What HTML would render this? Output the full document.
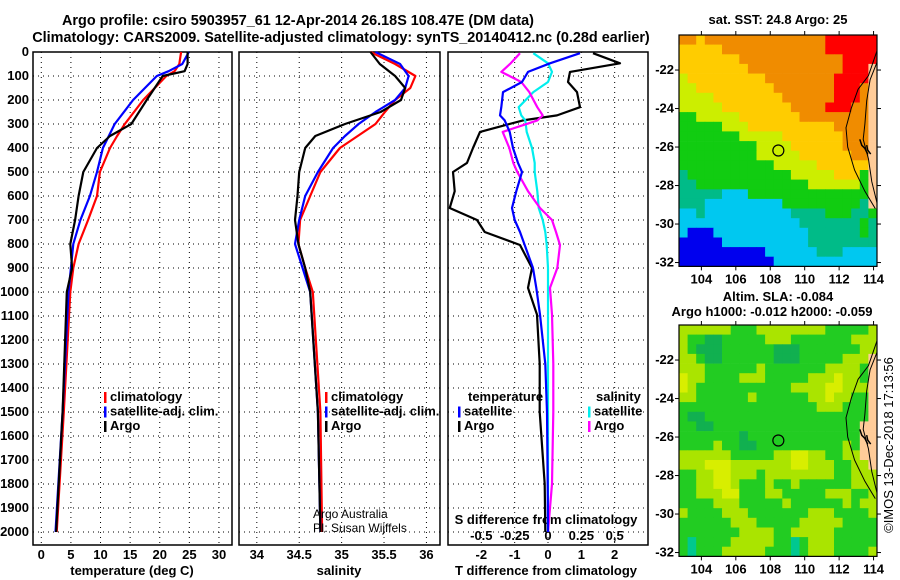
<!DOCTYPE html>
<html><head><meta charset="utf-8">
<style>
html,body{margin:0;padding:0;background:#fff;}
svg{display:block;font-family:"Liberation Sans",Arial,sans-serif;font-weight:bold;}
text{font-size:13px;fill:#000;}
</style></head>
<body>
<svg id="fig" width="900" height="580" viewBox="0 0 900 580" xmlns="http://www.w3.org/2000/svg">
<text x="298" y="25" text-anchor="middle" style="font-size:14.4px">Argo profile: csiro 5903957_61 12-Apr-2014 26.18S 108.47E (DM data)</text>
<text x="341" y="42" text-anchor="middle" style="font-size:14.4px">Climatology: CARS2009. Satellite-adjusted climatology: synTS_20140412.nc (0.28d earlier)</text>
<g id="layer"></g>
</svg>
<script>
// ---------- data ----------
const depthT = [0,50,80,100,200,300,350,400,500,600,700,800,900,1000,1500,2000];
const tempArgo = [24.7,24.7,24.2,20.5,17.8,15.2,11.6,9.4,7.1,6.3,5.7,4.9,5.2,4.3,3.6,2.5];
const tempClim = [23.6,23.3,22.5,21.1,17.2,14.1,12.8,11.6,9.9,9.4,7.9,6.3,5.4,4.9,3.8,2.6];
const tempSat  = [24.9,23.8,21.5,19.5,15.5,12.4,11.4,10.4,9.4,8.2,6.6,5.4,5.0,4.6,3.6,2.4];
const depthS = [0,50,100,150,200,250,300,350,400,500,600,700,800,900,1000,1500,2000];
const salArgo = [35.34,35.45,35.63,35.75,35.70,35.46,35.04,34.69,34.57,34.50,34.48,34.45,34.49,34.57,34.63,34.72,34.75];
const salClim = [35.34,35.63,35.87,35.81,35.63,35.51,35.40,35.19,34.98,34.75,34.63,34.51,34.49,34.57,34.66,34.75,34.77];
const salSat  = [35.40,35.69,35.79,35.75,35.63,35.40,35.20,35.04,34.90,34.72,34.57,34.50,34.45,34.54,34.63,34.72,34.75];
const depthD = [5,47,83,125,167,230,264,285,333,400,462,500,580,650,700,750,804,900,983,1094,1300,1500,1800,2000];
const dTArgo = [1.35,2.16,0.66,0.60,0.87,0.96,0.27,-0.75,-2.04,-2.25,-2.43,-2.85,-2.80,-2.95,-2.13,-1.90,-0.84,-0.48,-0.60,-0.33,-0.25,-0.25,-0.10,-0.08];
const dTSat  = [0.96,0.06,-0.60,-0.78,-1.35,-1.40,-1.44,-1.30,-1.15,-1.05,-0.90,-0.78,-0.95,-1.08,-1.00,-0.84,-0.70,-0.45,-0.35,-0.24,-0.08,-0.03,-0.01,0.00];
const dSArgo = [-0.21,-0.28,-0.35,-0.20,-0.14,-0.08,-0.04,-0.08,-0.34,-0.29,-0.26,-0.23,-0.15,-0.06,0.03,0.06,0.09,0.07,0.015,0.03,0.04,0.04,0.03,0.00];
const dSSat  = [-0.11,0.00,0.03,0.00,-0.11,-0.22,-0.20,-0.17,-0.16,-0.12,-0.10,-0.10,-0.08,-0.07,-0.04,-0.02,-0.01,0.00,0.00,0.00,0.00,0.00,0.00,0.00];
const depthTicks = [0,100,200,300,400,500,600,700,800,900,1000,1100,1200,1300,1400,1500,1600,1700,1800,1900,2000];
const tempTicks = [0,5,10,15,20,25,30];
const salTicks = [34,34.5,35,35.5,36];
const salTickLabels = ["34","34.5","35","35.5","36"];
const dTTicks = [-2,-1,0,1,2];
const dSTicks = [-0.5,-0.25,0,0.25,0.5];
const dSTickLabels = ["-0.5","-0.25","0","0.25","0,5"];
const lonTicks = [104,106,108,110,112,114];
const latTicks = [-22,-24,-26,-28,-30,-32];
const argoLon = 108.47, argoLat = -26.18;
const sstGrid = [
"ooyoooooooooooooorrrrrr","yyyyyoooooooooooorrrrrr","yyyyyyyoooooooooooorrrr","yyyyyyyyooooooooooorrrp",
"lyyyyyyyyyoooooooorrrrp","llyyyyyyyyyooooooorrrop","llllyyyyyyyyoooooorrrop","lllllyyyyyyyyoooorrroop",
"gglllllyyyyyyyoooooooop","ggggglllyyyyyyyyyyoooop","ggggggglllllyyyyyyyooop","gggggggggllllyyyyyyooop",
"ggggggggglllllyyyyyyoop","ggggggggggglllllyyyyyyp","tgggggggggggglllllyyygp","ttgggggggggggggllllllgp",
"tttttcccggggggggggggggp","tttcccccccccgggggggggtp","cctccccccccccttttgggttg","cccccccccccccctttttttgt",
"cbbbcccccccccccttttttgt","bbbbbcccccccccctttttttt","bbbbbbbbbbcccccctttcccc","bbbbbbbbbbbcccccccccccc"];
const slaGrid = [
"llllllgggllllllllgggggl","lggddggggglllggggggglll","lgdddggggggdddgggggggll","llgddggggggdddggggglllp",
"lllgggggglgggggggllllgp","yllgggglllggggglllyllgp","ylgggggggggggllllyylllp","llgggggglggggggllyllggp",
"gggggggggggggggglllgggp","gddgggggggggggggggggggp","ggddgggggggggggggggggpp","gggggggdgggggggggggggpp",
"gggglggddgggggggggglgpp","llllllgggggllyyllggllpp","lllyyylllllllyylllggllp","ggllyylllgllllllllgglll",
"ggllyylggglgglgggggglll","gglllyygggllggggglllggl","gggglllggggglgggggglgll","lgggglllggggggglllggggl",
"gggggglllggggglllllgggg","gggggggllllgglllllggggg","gtgggglllllggtglllggggg","gtggglllllgggtglllggggl"];
const sstColors = {o:"#f08c00",y:"#ffcc00",l:"#ccee00",g:"#11cc11",t:"#00bb88",c:"#00c8f0",b:"#0000ee",r:"#ff0000",p:"#ffcc99"};
const slaColors = {g:"#22cc22",d:"#11b050",l:"#aae400",y:"#d8ee00",t:"#00c890",p:"#ffcc99"};

// ---------- drawing ----------
const NS="http://www.w3.org/2000/svg";
const layer=document.getElementById('layer');
function mk(tag,attrs,parent){const e=document.createElementNS(NS,tag);for(const k in attrs)e.setAttribute(k,attrs[k]);(parent||layer).appendChild(e);return e;}
function txt(x,y,s,anchor,parent){const t=mk('text',{x:x,y:y,'text-anchor':anchor||'start'},parent);t.textContent=s;return t;}
const Y0=52, Y1=545, DMAX=(Y1-Y0)/0.24;
const yD=d=>Y0+d*(Y1-Y0)/DMAX;

function panel(name,x0,x1,vmin,vmax){
  const g=mk('g',{});
  
  
  const sx=v=>x0+(v-vmin)/(vmax-vmin)*(x1-x0);
  return {g,sx};
}
function grid(p,x0,x1,ticks){
  depthTicks.forEach(d=>{const l=mk('line',{x1:x0,x2:x1,y1:yD(d),y2:yD(d),stroke:'#000','stroke-width':1,'stroke-dasharray':'1,4'},p.g);
    
    });
  ticks.forEach(v=>{const l=mk('line',{x1:p.sx(v),x2:p.sx(v),y1:Y0,y2:Y1,stroke:'#000','stroke-width':1,'stroke-dasharray':'1,4'},p.g);
    
    });
  const r=mk('rect',{x:x0,y:Y0,width:x1-x0,height:Y1-Y0,fill:'none',stroke:'#000','stroke-width':1.5},p.g);
  
  
}
function line(p,xs,ds,color,name,sx){
  const pts=xs.map((v,i)=>sx(v).toFixed(1)+','+yD(ds[i]).toFixed(1)).join(' ');
  const pl=mk('polyline',{points:pts,fill:'none',stroke:color,'stroke-width':2.2,'stroke-linejoin':'round'},p.g);
  
  
}
function legend(x,y,items,parent){
  items.forEach((it,i)=>{
    const yy=y+i*14.5;
    const m=mk('rect',{x:x,y:yy-9,width:2.5,height:11,fill:it[1]},parent);
    
    
    const t=txt(x+6,yy,it[0],'start',parent);
    
    
  });
}

// Panel 1 temperature
const p1=panel('temperature-panel',33,232,-1.4,32.2);
grid(p1,33,232,tempTicks);
depthTicks.forEach(d=>{const t=txt(29,yD(d)+4,String(d),'end',p1.g);
  
  });
tempTicks.forEach(v=>{const t=txt(p1.sx(v),559,String(v),'middle',p1.g);
  
  });
let at=txt(132,575,'temperature (deg C)','middle',p1.g);


line(p1,tempClim,depthT,'#ff0000','temperature-climatology-line',p1.sx);
line(p1,tempSat,depthT,'#0000ff','temperature-satellite-line',p1.sx);
line(p1,tempArgo,depthT,'#000000','temperature-argo-line',p1.sx);
legend(104,401,[['climatology','#ff0000'],['satellite-adj. clim.','#0000ff'],['Argo','#000']],p1.g);

// Panel 2 salinity
const p2=panel('salinity-panel',239,440,33.79,36.16);
grid(p2,239,440,salTicks);
salTicks.forEach((v,i)=>{const t=txt(p2.sx(v),559,salTickLabels[i],'middle',p2.g);
  
  });
at=txt(339,575,'salinity','middle',p2.g);


line(p2,salClim,depthS,'#ff0000','salinity-climatology-line',p2.sx);
line(p2,salSat,depthS,'#0000ff','salinity-satellite-line',p2.sx);
line(p2,salArgo,depthS,'#000000','salinity-argo-line',p2.sx);
legend(325,401,[['climatology','#ff0000'],['satellite-adj. clim.','#0000ff'],['Argo','#000']],p2.g);
let cr=txt(313,518,'Argo Australia','start',p2.g);cr.style.fontWeight='normal';cr.style.fontSize='12px';


cr=txt(313,532,'PI: Susan Wijffels','start',p2.g);cr.style.fontWeight='normal';cr.style.fontSize='12px';



// Panel 3 differences
const p3=panel('difference-panel',448,648,-3,3);
const sxS=v=>p3.sx(v*4);
grid(p3,448,648,dTTicks);
dTTicks.forEach(v=>{const t=txt(p3.sx(v),559,String(v),'middle',p3.g);
  
  });
dSTicks.forEach((v,i)=>{const t=txt(sxS(v),540,dSTickLabels[i],'middle',p3.g);
  
  });
at=txt(546,575,'T difference from climatology','middle',p3.g);


at=txt(546,524,'S difference from climatology','middle',p3.g);


line(p3,dTArgo,depthD,'#000000','t-difference-argo-line',p3.sx);
line(p3,dSSat,depthD,'#00eeee','s-difference-satellite-line',sxS);
line(p3,dSArgo,depthD,'#ff00ff','s-difference-argo-line',sxS);
line(p3,dTSat,depthD,'#0000ff','t-difference-satellite-line',p3.sx);
let lt=txt(468,401,'temperature','start',p3.g);


legend(458,415.5,[['satellite','#0000ff'],['Argo','#000']],p3.g);
lt=txt(596,401,'salinity','start',p3.g);


legend(588,415.5,[['satellite','#00eeee'],['Argo','#ff00ff']],p3.g);

// Maps
function map(name,grid_,colors,top,title1,title2,titleY){
  const g=mk('g',{});
  
  
  const L0=102.7,L1=114.2,LAT0=-20.18,LAT1=-32.2,X0=679,X1=877,H=(LAT0-LAT1)*19.25;
  const sx=lon=>X0+(lon-L0)/(L1-L0)*(X1-X0);
  const sy=lat=>top+(LAT0-lat)*19.25;
  const rows=grid_.length, cols=grid_[0].length;
  const dlon=(L1-L0)/cols, dlat=(LAT0-LAT1)/rows;
  grid_.forEach((row,r)=>{for(let c=0;c<cols;c++){
    const x=sx(L0+c*dlon), y=sy(LAT0-r*dlat);
    const cell=mk('rect',{x:x.toFixed(1),y:y.toFixed(1),width:(sx(L0+(c+1)*dlon)-x+0.4).toFixed(1),height:(sy(LAT0-(r+1)*dlat)-y+0.4).toFixed(1),fill:colors[row[c]]},g);
    
    
  }});
  const coast=[[114.2,-21.0],[113.7,-22.3],[113.1,-23.0],[112.7,-24.0],[112.4,-25.0],[112.5,-26.0],[112.9,-27.2],[113.5,-28.3],[114.1,-29.2]];
  const cp=mk('polyline',{points:coast.map(p=>sx(p[0]).toFixed(1)+','+sy(p[1]).toFixed(1)).join(' '),fill:'none',stroke:'#000','stroke-width':1},g);
  
  
  const coast2=[[114.2,-21.6],[113.8,-22.5],[113.6,-23.6],[113.5,-24.8],[113.4,-25.6],[113.7,-26.6],[113.9,-27.8],[114.2,-28.9]];
  const cp2=mk('polyline',{points:coast2.map(p=>sx(p[0]).toFixed(1)+','+sy(p[1]).toFixed(1)).join(' '),fill:'none',stroke:'#000','stroke-width':1},g);
  
  
  const bay=mk('path',{d:`M${sx(113.2).toFixed(1)},${sy(-25.6).toFixed(1)} l2,6 l3,3 l3,6 M${sx(113.6).toFixed(1)},${sy(-25.9).toFixed(1)} l1,5 l3,4`,fill:'none',stroke:'#000','stroke-width':1.5},g);
  
  
  const fr=mk('rect',{x:X0,y:top,width:X1-X0,height:H,fill:'none',stroke:'#000','stroke-width':1.2},g);
  
  
  const pt=mk('circle',{cx:sx(argoLon),cy:sy(argoLat),r:5.5,fill:'none',stroke:'#000','stroke-width':1.2},g);
  
  
  lonTicks.forEach(v=>{
    mk('line',{x1:sx(v),x2:sx(v),y1:top+H,y2:top+H+4,stroke:'#000'},g);
    mk('line',{x1:sx(v),x2:sx(v),y1:top,y2:top-4,stroke:'#000'},g);
    const t=txt(sx(v),top+H+17,String(v),'middle',g);
    
    });
  latTicks.forEach(v=>{
    mk('line',{x1:X0,x2:X0-4,y1:sy(v),y2:sy(v),stroke:'#000'},g);
    mk('line',{x1:X1,x2:X1+4,y1:sy(v),y2:sy(v),stroke:'#000'},g);
    const t=txt(674,sy(v)+4,String(v),'end',g);
    
    });
  let t1=txt(778,titleY,title1,'middle',g);
  
  
  if(title2){let t2=txt(772,titleY+15,title2,'middle',g);
    
    }
}
map('sst-map',sstGrid,sstColors,35,'sat. SST: 24.8 Argo: 25',null,24);
map('sla-map',slaGrid,slaColors,325,'Altim. SLA: -0.084','Argo h1000: -0.012 h2000: -0.059',301);
const st=txt(0,0,'©IMOS 13-Dec-2018 17:13:56','middle');
st.setAttribute('transform','translate(893,445) rotate(-90)');
st.style.fontWeight='normal';


</script>
</body></html>
